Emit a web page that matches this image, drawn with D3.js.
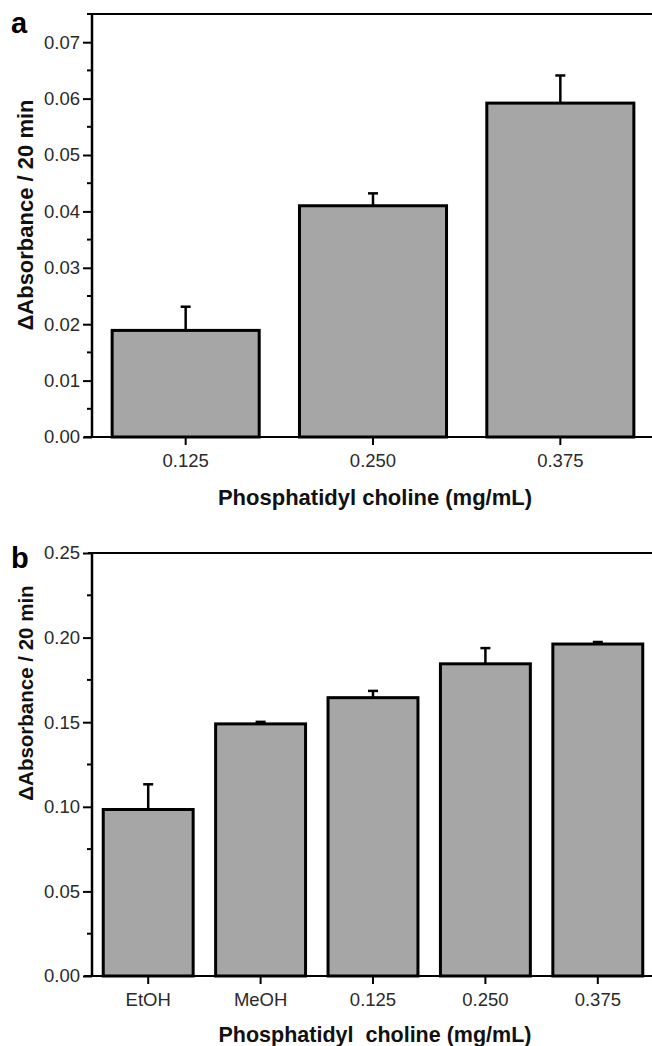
<!DOCTYPE html>
<html>
<head>
<meta charset="utf-8">
<script src="https://cdn.jsdelivr.net/npm/d3@7"></script>
<style>
  body { margin: 0; background: #fff; }
  svg { display: block; }
  text { font-family: "Liberation Sans", Arial, sans-serif; }
</style>
</head>
<body>
<div id="chart"></div>
<script>
// panel a
var catsA = ["0.125", "0.250", "0.375"];
var valsA = [0.0189, 0.0410, 0.0592];
var errA = [0.0042, 0.0022, 0.0049];
var majorA = [0, 0.01, 0.02, 0.03, 0.04, 0.05, 0.06, 0.07];
var minorA = [0.005, 0.015, 0.025, 0.035, 0.045, 0.055, 0.065, 0.075];

// panel b
var catsB = ["EtOH", "MeOH", "0.125", "0.250", "0.375"];
var valsB = [0.0984, 0.1490, 0.1645, 0.1845, 0.1962];
var errB = [0.0149, 0.0012, 0.0040, 0.0093, 0.0012];
var majorB = [0, 0.05, 0.10, 0.15, 0.20, 0.25];
var minorB = [0.025, 0.075, 0.125, 0.175, 0.225];

var W = 652, H = 1046;

var svg = d3.select("#chart").append("svg")
  .attr("width", W)
  .attr("height", H);

function draw_panel(p) {
  var x = d3.scaleBand()
    .domain(p.cats)
    .range([92, 654])
    .paddingInner(p.pad)
    .paddingOuter(p.pad / 2);

  var y = d3.scaleLinear()
    .domain([0, p.ymax])
    .range([p.bottom, p.top]);

  var g = svg.append("g");

  // bars
  g.selectAll("rect.bar")
    .data(p.vals).enter()
    .append("rect")
    .attr("class", "bar")
    .attr("x", function(d, i) { return x(p.cats[i]); })
    .attr("y", function(d) { return y(d); })
    .attr("width", x.bandwidth())
    .attr("height", function(d) { return y(0) - y(d); })
    .style("fill", "#a6a6a6")
    .style("stroke", "#000")
    .style("stroke-width", 3);

  // error bars (upper only)
  var eb = g.append("g");
  eb.selectAll("line.err")
    .data(p.vals).enter()
    .append("line")
    .attr("x1", function(d, i) { return x(p.cats[i]) + x.bandwidth() / 2; })
    .attr("x2", function(d, i) { return x(p.cats[i]) + x.bandwidth() / 2; })
    .attr("y1", function(d) { return y(d); })
    .attr("y2", function(d, i) { return y(d + p.errs[i]); })
    .style("stroke", "#000")
    .style("stroke-width", 2.5);
  eb.selectAll("line.cap")
    .data(p.vals).enter()
    .append("line")
    .attr("x1", function(d, i) { return x(p.cats[i]) + x.bandwidth() / 2 - 5; })
    .attr("x2", function(d, i) { return x(p.cats[i]) + x.bandwidth() / 2 + 5; })
    .attr("y1", function(d, i) { return y(d + p.errs[i]); })
    .attr("y2", function(d, i) { return y(d + p.errs[i]); })
    .style("stroke", "#000")
    .style("stroke-width", 2.5);

  // left axis with major + minor ticks
  var yAxis = d3.axisLeft(y)
    .tickValues(p.major)
    .tickFormat(d3.format(".2f"))
    .tickSize(9)
    .tickPadding(3);
  var ya = g.append("g")
    .attr("transform", "translate(92,0)")
    .call(yAxis);
  ya.select(".domain").remove();
  ya.selectAll("line").style("stroke", "#000").style("stroke-width", 2);
  ya.selectAll("text")
    .style("font-size", "18.5px")
    .style("fill", "#2a2a2a");

  g.append("g").selectAll("line")
    .data(p.minor).enter()
    .append("line")
    .attr("x1", 87).attr("x2", 92)
    .attr("y1", function(d) { return y(d); })
    .attr("y2", function(d) { return y(d); })
    .style("stroke", "#000")
    .style("stroke-width", 2);

  // bottom axis
  var xAxis = d3.axisBottom(x)
    .tickSize(8)
    .tickPadding(9);
  var xa = g.append("g")
    .attr("transform", "translate(0," + p.bottom + ")")
    .call(xAxis);
  xa.select(".domain").remove();
  xa.selectAll("line").style("stroke", "#000").style("stroke-width", 2);
  xa.selectAll("text")
    .style("font-size", "18.5px")
    .style("fill", "#2a2a2a");

  // frame
  g.append("path")
    .attr("d", "M84," + p.bottom + "H654V" + p.top + "H88")
    .style("fill", "none")
    .style("stroke", "#000")
    .style("stroke-width", 2);
  g.append("line")
    .attr("x1", 92).attr("x2", 92)
    .attr("y1", p.top).attr("y2", p.bottom)
    .style("stroke", "#000")
    .style("stroke-width", 2.5);

  // titles
  g.append("text")
    .attr("x", 375)
    .attr("y", p.xtitleY)
    .attr("text-anchor", "middle")
    .style("font-weight", "bold")
    .style("font-size", p.xtitleSize + "px")
    .style("white-space", "pre")
    .style("fill", "#111")
    .text(p.xtitle);

  g.append("text")
    .attr("transform", "translate(33," + p.ytitleY + ") rotate(-90)")
    .attr("text-anchor", "middle")
    .style("font-weight", "bold")
    .style("font-size", p.ytitleSize + "px")
    .style("fill", "#111")
    .text("\u0394Absorbance / 20 min");

  g.append("text")
    .attr("x", 11)
    .attr("y", p.labelY)
    .style("font-weight", "bold")
    .style("font-size", "29px")
    .style("fill", "#000")
    .text(p.label);
}

draw_panel({
  cats: catsA, vals: valsA, errs: errA, major: majorA, minor: minorA,
  ymax: 0.075, top: 14, bottom: 437, pad: 0.215,
  xtitle: "Phosphatidyl choline (mg/mL)", xtitleY: 505, xtitleSize: 22,
  ytitleY: 215, ytitleSize: 22,
  label: "a", labelY: 33
});

draw_panel({
  cats: catsB, vals: valsB, errs: errB, major: majorB, minor: minorB,
  ymax: 0.25, top: 553, bottom: 976, pad: 0.2,
  xtitle: "Phosphatidyl  choline (mg/mL)", xtitleY: 1042, xtitleSize: 21.5,
  ytitleY: 693, ytitleSize: 20.5,
  label: "b", labelY: 568
});
</script>
</body>
</html>
